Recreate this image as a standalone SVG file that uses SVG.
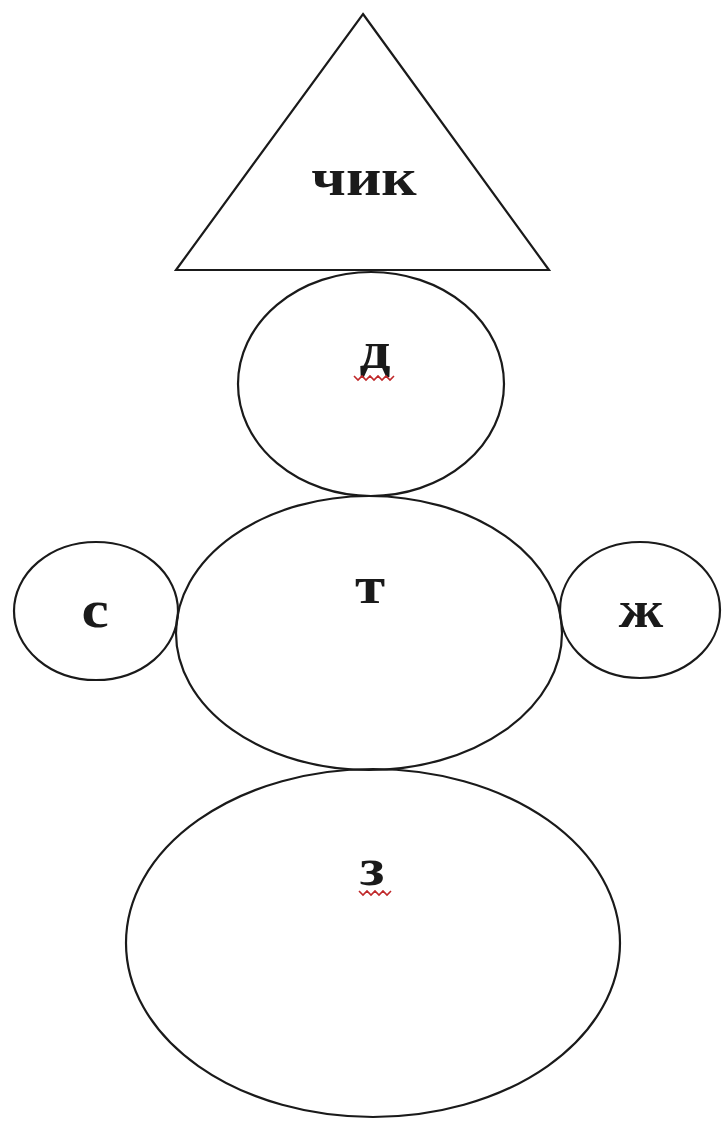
<svg xmlns="http://www.w3.org/2000/svg" width="722" height="1128" viewBox="0 0 722 1128">
<style>
.s{fill:none;stroke:#1a1a1a;stroke-width:2.2}
.t{font-family:"Liberation Serif","Times New Roman",serif;font-weight:bold;font-size:52px;fill:#1a1a1a;text-anchor:middle}
.w{fill:none;stroke:#c0282a;stroke-width:1.6}
</style>
<rect width="722" height="1128" fill="#fff"/>
<g id="hat"><polygon class="s" points="363,14 549,270 176,270"/><text class="t" transform="translate(364,195) scale(1.18,1)">чик</text></g>
<g id="head"><ellipse class="s" cx="371" cy="384" rx="133" ry="112"/><text class="t" transform="translate(375,368) scale(1.18,1)">д</text>
<path class="w" d="M354,376 l4,4 l4,-4 l4,4 l4,-4 l4,4 l4,-4 l4,4 l4,-4 l4,4 l4,-4"/></g>
<g id="body"><ellipse class="s" cx="369" cy="633" rx="193" ry="137"/><text class="t" transform="translate(370,603) scale(1.18,1)">т</text></g>
<g id="left"><ellipse class="s" cx="96" cy="611" rx="82" ry="69"/><text class="t" transform="translate(95,627) scale(1.18,1)">с</text></g>
<g id="right"><ellipse class="s" cx="640" cy="610" rx="80" ry="68"/><text class="t" transform="translate(641,627) scale(1.18,1)">ж</text></g>
<g id="base"><ellipse class="s" cx="373" cy="943" rx="247" ry="174"/><text class="t" transform="translate(372,885) scale(1.18,1)">з</text>
<path class="w" d="M359,891 l4,4 l4,-4 l4,4 l4,-4 l4,4 l4,-4 l4,4 l4,-4"/></g>
<g id="connectors"></g>
</svg>
